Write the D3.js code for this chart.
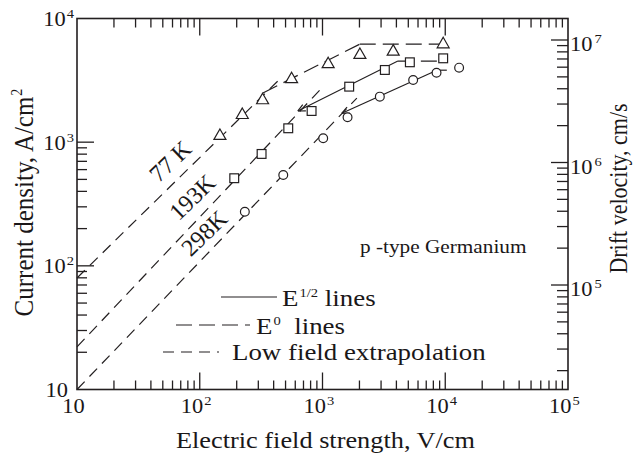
<!DOCTYPE html>
<html>
<head>
<meta charset="utf-8">
<script src="https://cdn.jsdelivr.net/npm/d3@7"></script>
<style>
  body { margin: 0; background: #fff; }
  svg { display: block; }
  text { font-family: "Liberation Serif", "Times New Roman", Times, serif; fill: #1a1718; }
</style>
</head>
<body>
<svg id="chart" width="633" height="456"></svg>
<script>
// Field (V/cm) and current density (A/cm^2) for p-type germanium
const field77 = [146, 222, 325, 560, 1112, 2017, 3767, 9620];
const current77 = [1144, 1690, 2223, 3289, 4349, 5166, 5497, 6302];
const field193 = [191, 319, 526, 815, 1650, 3221, 5149, 9620];
const current193 = [511, 803, 1295, 1787, 2811, 3835, 4425, 4764];
const field298 = [233, 479, 1013, 1600, 2931, 5477, 8490, 12970];
const current298 = [274, 543, 1075, 1590, 2334, 3183, 3646, 4003];

// Fitted lines as [field, current] end points
const lowField77 = [[10, 79.8], [467, 3365]];
const lowField193 = [[10, 22.1], [988, 2742]];
const lowField298 = [[10, 10], [1905, 2274]];
const sqrtLine77 = [[327, 2500], [2011, 6200]];
const sqrtLine193 = [[630, 1787], [4111, 4530]];
const sqrtLine298 = [[1439, 1713], [8542, 3820]];
const flatLine77 = [[2011, 6200], [9750, 6200]];
const flatLine193 = [[4111, 4530], [9036, 4530]];
const flatLine298 = [[8542, 3820], [10300, 3820]];

// Axis ticks
const fieldMajor = [10, 100, 1000, 10000, 100000];
const fieldLabelExp = ["", "2", "3", "4", "5"];
const currentMajor = [10, 100, 1000, 10000];
const currentLabelExp = ["", "2", "3", "4"];
const currentTicked = [100, 1000];
const velocityMajor = [1e5, 1e6, 1e7];
const velocityLabelExp = ["5", "6", "7"];
const tempLabels = ["77 K", "193K", "298K"];

const svg = d3.select("#chart");
const L = 77, R = 568, T = 18.5, B = 389.5;
const SX = 1.12;           // horizontal glyph stretch
const ink = "#231f20";

const x = d3.scaleLog().domain([10, 1e5]).range([L, R]);
const y = d3.scaleLog().domain([10, 1e4]).range([B, T]);
const yv = d3.scaleLog().domain([Math.pow(10, 4.147), Math.pow(10, 7.1755)]).range([B, T]);

function minorsBetween(lo, hi) {
  const out = [];
  for (let d = lo; d < hi; d *= 10) for (let k = 2; k <= 9; k++) out.push(d * k);
  return out;
}

// ---- frame and ticks ----
const axes = svg.append("g").attr("stroke", ink).attr("fill", "none");
axes.append("rect").attr("x", L).attr("y", T).attr("width", R - L).attr("height", B - T)
  .attr("stroke-width", 1.6);

const xMinor = minorsBetween(10, 1e5);
function vTicks(vals, len) {
  vals.forEach(v => {
    const px = x(v);
    axes.append("line").attr("x1", px).attr("x2", px).attr("y1", B).attr("y2", B - len).attr("stroke-width", 1.3);
    axes.append("line").attr("x1", px).attr("x2", px).attr("y1", T).attr("y2", T + len).attr("stroke-width", 1.3);
  });
}
vTicks(xMinor, 9);
vTicks(fieldMajor.slice(1, -1), 17);

const yMinor = minorsBetween(10, 1000);
yMinor.forEach(v => axes.append("line").attr("x1", L).attr("x2", L + 10).attr("y1", y(v)).attr("y2", y(v)).attr("stroke-width", 1.3));
currentTicked.forEach(v => axes.append("line").attr("x1", L).attr("x2", L + 17).attr("y1", y(v)).attr("y2", y(v)).attr("stroke-width", 1.3));

const vMinor = minorsBetween(1e4, 1e7).filter(v => v > yv.domain()[0]);
vMinor.forEach(v => axes.append("line").attr("x1", R).attr("x2", R - 11).attr("y1", yv(v)).attr("y2", yv(v)).attr("stroke-width", 1.3));
velocityMajor.forEach(v => axes.append("line").attr("x1", R).attr("x2", R - 17).attr("y1", yv(v)).attr("y2", yv(v)).attr("stroke-width", 1.3));

// ---- text helper ----
function label(px, py, opts) {
  const rot = opts.rotate ? ` rotate(${opts.rotate})` : "";
  const t = svg.append("text")
    .attr("transform", `translate(${px},${py}) scale(${opts.stretch === false ? 1 : SX},1)${rot}`)
    .attr("font-size", opts.size)
    .attr("text-anchor", opts.anchor || "start");
  if (opts.dy) t.attr("dy", opts.dy);
  t.append("tspan").text(opts.text);
  if (opts.sup) {
    t.append("tspan").attr("font-size", opts.supSize || 13).attr("dy", opts.supRise || -8)
      .attr("dx", opts.supGap || 0).text(opts.sup);
    if (opts.after) t.append("tspan").attr("dy", -(opts.supRise || -8)).attr("dx", opts.afterGap || 0).text(opts.after);
  }
  return t;
}

// x tick labels
fieldMajor.forEach((v, i) => {
  label(x(v) - 3.5, 413, { text: "10", sup: fieldLabelExp[i] || null, size: 20, anchor: "middle", supRise: -8, supGap: 1 });
});
// left tick labels
currentMajor.forEach((v, i) => {
  const e = currentLabelExp[i];
  label(e ? 74 : 68, y(v) + 7.5, { text: "10", sup: e || null, size: 20, anchor: "end", supRise: -8, supGap: 1 });
});
// right tick labels
velocityMajor.forEach((v, i) => {
  label(570, yv(v) + 11, { text: "10", sup: velocityLabelExp[i], size: 20, anchor: "start", supRise: -8, supGap: 2 });
});

// axis titles
label(325.5, 448, { text: "Electric field strength, V/cm", size: 23.5, anchor: "middle" });
label(33, 202.5, { text: "Current density, A/cm", sup: "2", size: 25, anchor: "middle", rotate: -90, supSize: 14, supRise: -10, supGap: 1 });
label(627, 188.5, { text: "Drift velocity, cm/s", size: 22, anchor: "middle", rotate: -90 });

// ---- curves ----
const plot = svg.append("g").attr("fill", "none").attr("stroke", ink).attr("stroke-width", 1.2);
const line = d3.line().x(d => x(d[0])).y(d => y(d[1]));
const LOW_DASH = "11,7", FLAT_DASH = "16,7";

[lowField77, lowField193, lowField298].forEach(seg =>
  plot.append("path").attr("d", line(seg)).attr("stroke-dasharray", LOW_DASH));
plot.append("path").attr("d", line(sqrtLine77)).attr("stroke-dasharray", FLAT_DASH);
[sqrtLine193, sqrtLine298].forEach(seg => {
  plot.append("path").attr("d", line(seg));
  // open arrow head at the low-field end
  const [x0, y0] = [x(seg[0][0]), y(seg[0][1])];
  const [x1, y1] = [x(seg[1][0]), y(seg[1][1])];
  const a = Math.atan2(y1 - y0, x1 - x0);
  [0.45, -0.45].forEach(da => {
    plot.append("line").attr("x1", x0).attr("y1", y0)
      .attr("x2", x0 + 8 * Math.cos(a + da)).attr("y2", y0 + 8 * Math.sin(a + da));
  });
});
[flatLine77, flatLine193, flatLine298].forEach(seg =>
  plot.append("path").attr("d", line(seg)).attr("stroke-dasharray", FLAT_DASH));

// ---- markers ----
const marks = svg.append("g").attr("fill", "#fff").attr("stroke", ink).attr("stroke-width", 1.2);
field77.forEach((e, i) => {
  const cx = x(e), cy = y(current77[i]), s = 6;
  marks.append("path").attr("d", `M${cx},${cy - s}L${cx + s},${cy + s * 0.75}L${cx - s},${cy + s * 0.75}Z`);
});
field193.forEach((e, i) => {
  marks.append("rect").attr("x", x(e) - 4.4).attr("y", y(current193[i]) - 4.4).attr("width", 8.8).attr("height", 8.8);
});
field298.forEach((e, i) => {
  marks.append("circle").attr("cx", x(e)).attr("cy", y(current298[i])).attr("r", 4.4);
});

// temperature labels along the low-field lines
[[170, 161], [192, 197], [204, 233]].forEach((p, i) => {
  label(p[0], p[1], { text: tempLabels[i], size: 24, anchor: "middle", rotate: -44, dy: "0.35em", stretch: false });
});

label(360, 253, { text: "p -type Germanium", size: 19 });

// ---- legend ----
const leg = svg.append("g").attr("stroke", ink).attr("stroke-width", 1.2);
leg.append("line").attr("x1", 221).attr("x2", 277).attr("y1", 297).attr("y2", 297);
leg.append("line").attr("x1", 176).attr("x2", 250).attr("y1", 325).attr("y2", 325).attr("stroke-dasharray", FLAT_DASH);
leg.append("line").attr("x1", 163).attr("x2", 219).attr("y1", 352).attr("y2", 352).attr("stroke-dasharray", LOW_DASH);
label(282, 306, { text: "E", sup: "1/2", after: "lines", size: 24, supSize: 13, supRise: -9, supGap: 1, afterGap: 6 });
label(256, 334, { text: "E", sup: "0", after: "lines", size: 24, supSize: 13, supRise: -9, supGap: 1, afterGap: 12 });
label(232, 360, { text: "Low field extrapolation", size: 24 });
</script>
</body>
</html>
